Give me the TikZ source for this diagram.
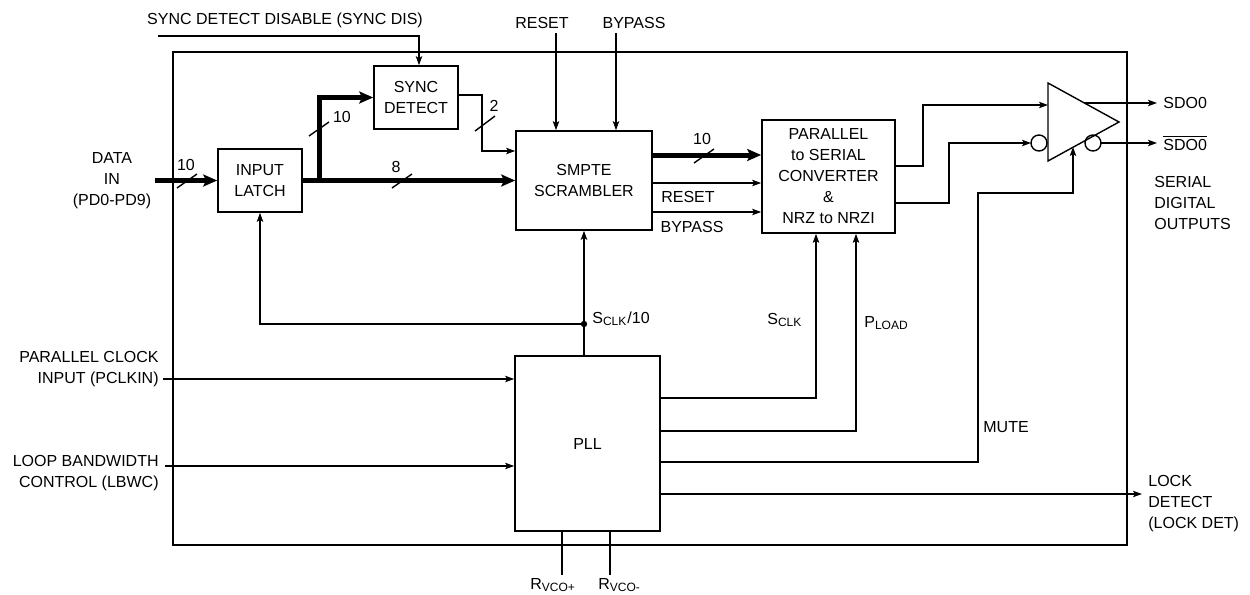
\documentclass[tikz,border=0pt]{standalone}
\usepackage{fontspec}
\setmainfont{Liberation Sans}
\usetikzlibrary{arrows.meta,calc}
\begin{document}
\begin{tikzpicture}[x=0.5pt,y=-0.5pt,
  font=\fontsize{8}{10.5}\selectfont,
  wire/.style={line width=0.7pt},
  arr/.style={wire,-{Stealth[length=4.5pt,width=3.2pt,inset=1pt]}},
  bus/.style={line width=2.5pt},
  busarr/.style={bus,-{Stealth[length=7pt,width=6pt,inset=1.5pt]}},
  blk/.style={draw,line width=0.8pt,align=center,inner sep=0pt},
  lbl/.style={inner sep=0pt,align=center},
  slash/.style={line width=0.7pt}]
\useasboundingbox (0,0) rectangle (1250,595);

% chip outline
\draw[line width=0.8pt] (173,52) rectangle (1127,545);

% blocks
\node[blk,minimum width=42pt,minimum height=31.5pt] (latch) at (260,180.5) {INPUT\\LATCH};
\node[blk,minimum width=42pt,minimum height=31.5pt] (sync) at (416,97.5) {SYNC\\DETECT};
\node[blk,minimum width=68pt,minimum height=49.5pt] (smpte) at (584,180.5) {SMPTE\\SCRAMBLER};
\node[blk,minimum width=66.5pt,minimum height=56.5pt] (ps) at (828.5,176.5) {PARALLEL\\to SERIAL\\CONVERTER\\\&\\NRZ to NRZI};
\node[blk,minimum width=72.5pt,minimum height=87.5pt] (pll) at (587.5,443.5) {PLL};

% outside labels
\node[lbl] (syncdis) at (285,20) {SYNC DETECT DISABLE (SYNC DIS)};
\node[lbl] (resetin) at (542,23) {RESET};
\node[lbl] (bypassin) at (634,23) {BYPASS};
\node[lbl] (datain) at (112,181) {DATA\\IN\\(PD0-PD9)};
\node[lbl,anchor=east,align=right] (pclk) at (159,369) {PARALLEL CLOCK\\INPUT (PCLKIN)};
\node[lbl,anchor=east,align=right] (lbwc) at (159,473) {LOOP BANDWIDTH\\CONTROL (LBWC)};

% sync disable
\coordinate (sdA) at (158,36);
\draw[arr] (sdA) -| ([xshift=1.5pt]sync.north);
% reset / bypass inputs
\coordinate (rs) at (556,33);
\coordinate (bp) at (616,33);
\draw[arr] (rs) -- (rs |- smpte.north);
\draw[arr] (bp) -- (bp |- smpte.north);

% data bus
\coordinate (din) at (155,180.5);
\draw[busarr] (din) -- (latch.west);
\draw[busarr] (latch.east) -- (smpte.west);
\coordinate (br) at (319,180.5);
\draw[busarr] (br) |- (sync.west);
\draw[slash] (177,188) -- (197,174);
\node[lbl] at (186,165) {10};
\draw[slash] (392,188) -- (412,174);
\node[lbl] at (396,167) {8};
\draw[slash] (309,136) -- (329,122);
\node[lbl] at (342,117) {10};

% sync detect output
\draw[arr] (sync.east |- 0,95) -| (482,151) -- (smpte.west |- 0,151);
\draw[slash] (475,131) -- (495,116);
\node[lbl] at (494,106) {2};

% scrambler to converter
\draw[busarr] (smpte.east |- 0,155) -- (ps.west |- 0,155);
\draw[slash] (694,163) -- (714,149);
\node[lbl] at (702,139) {10};
\draw[arr] (smpte.east |- 0,183) -- (ps.west |- 0,183);
\node[lbl] at (688,197) {RESET};
\draw[arr] (smpte.east |- 0,212) -- (ps.west |- 0,212);
\node[lbl] at (692,227) {BYPASS};

% PLL clock to scrambler and latch
\coordinate (junc) at (584,324);
\draw[arr] (pll.north -| smpte.south) -- (smpte.south);
\fill (junc) circle (1.6pt);
\draw[arr] (junc) -| (latch.south);
\node[lbl,anchor=base west] at (592,323) {S\textsubscript{CLK}/10};

% PLL inputs
\coordinate (pcin) at (163,379);
\coordinate (lbin) at (165,466);
\draw[arr] (pcin) -- (pll.west |- pcin);
\draw[arr] (lbin) -- (pll.west |- lbin);

% PLL outputs
\draw[arr] (pll.east |- 0,398) -| (ps.south -| 816,0);
\node[lbl,anchor=base west] at (767,324) {S\textsubscript{CLK}};
\draw[arr] (pll.east |- 0,431) -| (ps.south -| 856,0);
\node[lbl,anchor=base west] at (864,327) {P\textsubscript{LOAD}};
\draw[arr] (pll.east |- 0,462) -| (978,193) -| (1073,147);
\node[lbl,anchor=west] at (983,427) {MUTE};
\coordinate (lockend) at (1142,494);
\draw[arr] (pll.east |- lockend) -- (lockend);
\node[lbl,anchor=west,align=left] at (1148,504) {LOCK\\DETECT\\(LOCK DET)};

% Rvco pins
\draw[wire] (pll.south -| 562,0) -- (562,575);
\draw[wire] (pll.south -| 610,0) -- (610,575);
\node[lbl,anchor=base west] at (530,589) {R\textsubscript{VCO+}};
\node[lbl,anchor=base west] at (598,589) {R\textsubscript{VCO-}};

% output driver
\coordinate (tTop) at (1048,83);
\coordinate (tApex) at (1119,122);
\coordinate (tBot) at (1048,161);
\draw[wire,line join=miter] (tTop) -- (tApex) -- (tBot) -- cycle;
\draw[wire] (1039,143) circle (4pt);
\draw[wire] (1093,143) circle (4pt);
\draw[arr] (ps.east |- 0,166) -| (923,105) -- (tTop |- 0,105);
\draw[arr] (ps.east |- 0,203) -| (949,143) -- (1031,143);
\coordinate (o1) at (1157,103);
\coordinate (o2) at (1157,143);
\draw[arr] (1084,103) -- (o1);
\draw[arr] (1101,143) -- (o2);
\node[lbl,anchor=west] at (1163,103) {SDO0};
\node[lbl,anchor=west] at (1163,143) {$\overline{\hbox{SDO0}}$};
\node[lbl,anchor=west,align=left] at (1154,203) {SERIAL\\DIGITAL\\OUTPUTS};
\end{tikzpicture}
\end{document}
